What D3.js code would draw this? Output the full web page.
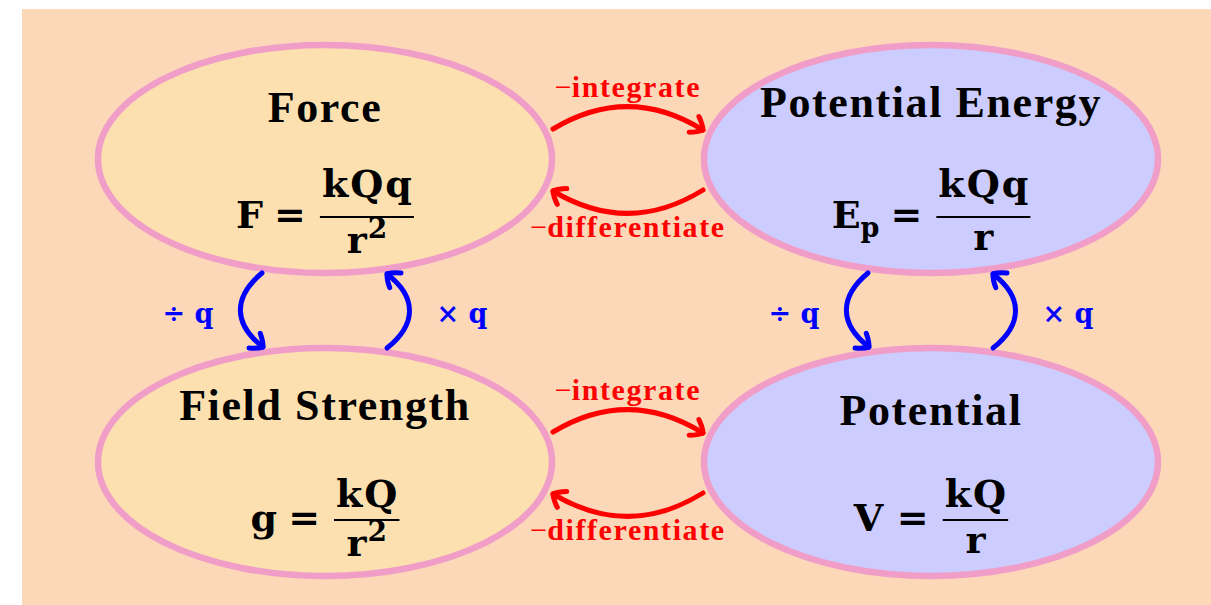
<!DOCTYPE html>
<html>
<head>
<meta charset="utf-8">
<script src="https://cdn.jsdelivr.net/npm/d3@7"></script>
<style>
  body { margin: 0; background: #fff; }
</style>
</head>
<body>
<div id="chart"></div>
<script>
var width = 1211,
    height = 605;

// the four quantities
var titles = ["Force", "Potential Energy", "Field Strength", "Potential"];
var cols = [0, 1, 0, 1];
var rows = [0, 0, 1, 1];
var lhs = ["F", "E", "g", "V"];
var lhsSub = ["", "p", "", ""];
var numer = ["kQq", "kQq", "kQ", "kQ"];
var denom = ["r", "r", "r", "r"];
var denomPow = ["2", "", "2", ""];

// the links between them
var hLabels = ["\u2212integrate", "\u2212differentiate"];
var vLabels = ["\u00f7 q", "\u00d7 q"];

var svg = d3.select("#chart").append("svg")
    .attr("width", width)
    .attr("height", height);

svg.append("rect")
    .attr("x", 22).attr("y", 9)
    .attr("width", width - 22).attr("height", height - 9)
    .attr("fill", "#fcd8b8");

var x = d3.scaleLinear().domain([0, 1]).range([325, 931]);
var y = d3.scaleLinear().domain([0, 1]).range([159, 462]);
var fill = d3.scaleOrdinal().domain([0, 1]).range(["#fde0b0", "#ccccff"]);
var rx = 227, ry = 114;

var titleFont = "'Liberation Serif', serif";
var mathFont = "'DejaVu Serif', serif";

// ellipses
svg.selectAll("ellipse.node")
    .data(d3.range(titles.length))
  .enter().append("ellipse")
    .attr("class", "node")
    .attr("cx", function(i) { return x(cols[i]); })
    .attr("cy", function(i) { return y(rows[i]); })
    .attr("rx", rx)
    .attr("ry", ry)
    .attr("fill", function(i) { return fill(cols[i]); })
    .attr("stroke", "#f09ec8")
    .attr("stroke-width", 6.5);

// titles
svg.selectAll("text.title")
    .data(d3.range(titles.length))
  .enter().append("text")
    .attr("class", "title")
    .attr("x", function(i) { return x(cols[i]); })
    .attr("y", function(i) { return y(rows[i]) - (/[gjpqy]/.test(titles[i]) ? 42 : 37); })
    .attr("text-anchor", "middle")
    .attr("font-family", titleFont)
    .attr("font-weight", "bold")
    .attr("font-size", 44)
    .attr("letter-spacing", 1.6)
    .attr("fill", "#000")
    .text(function(i) { return titles[i]; });

// formulas
d3.range(titles.length).forEach(function(i) {
  var g = svg.append("g")
      .attr("font-family", mathFont)
      .attr("font-weight", "bold")
      .attr("font-size", 38);
  var t1 = g.append("text")
      .attr("x", 0).attr("y", 69);
  t1.append("tspan").text(lhs[i]);
  if (lhsSub[i]) t1.append("tspan").attr("font-size", 27).attr("dy", 9).text(lhsSub[i]);
  var w1 = t1.node().getBBox().width;

  var eq = g.append("text")
      .attr("x", w1 + 11).attr("y", 69)
      .text("=");
  var w2 = eq.node().getBBox().width;
  var fx = w1 + 11 + w2 + 14;

  var hasDesc = /[gjpqy]/.test(numer[i]);
  var num = g.append("text")
      .attr("y", hasDesc ? 38 : 45)
      .attr("text-anchor", "middle")
      .attr("letter-spacing", 2)
      .text(numer[i]);
  var den = g.append("text")
      .attr("y", denomPow[i] ? 94 : 91)
      .attr("text-anchor", "middle");
  den.append("tspan").text(denom[i]);
  if (denomPow[i]) den.append("tspan").attr("font-size", 28).attr("dy", -15).attr("dx", 1).text(denomPow[i]);

  var fw = Math.max(num.node().getBBox().width, den.node().getBBox().width) + 2;
  num.attr("x", fx + fw / 2 + 1);
  den.attr("x", fx + fw / 2);
  g.append("line")
      .attr("x1", fx).attr("x2", fx + fw)
      .attr("y1", 58).attr("y2", 58)
      .attr("stroke", "#000").attr("stroke-width", 2);

  var total = fx + fw;
  g.attr("transform", "translate(" + (x(cols[i]) - total / 2) + "," + y(rows[i]) + ")");
});

// curved arrow with an open head at the end
function arrow(p0, c1, c2, p3, color) {
  var p = d3.path();
  p.moveTo(p0[0], p0[1]);
  p.bezierCurveTo(c1[0], c1[1], c2[0], c2[1], p3[0], p3[1]);
  svg.append("path")
      .attr("d", p.toString())
      .attr("fill", "none")
      .attr("stroke", color)
      .attr("stroke-width", 5)
      .attr("stroke-linecap", "round");

  var dx = p3[0] - c2[0], dy = p3[1] - c2[1];
  var len = Math.sqrt(dx * dx + dy * dy);
  dx /= len; dy /= len;
  var L = 14, a = 0.72;
  function barb(s) {
    var ca = Math.cos(s * a), sa = Math.sin(s * a);
    return [p3[0] - L * (dx * ca - dy * sa), p3[1] - L * (dx * sa + dy * ca)];
  }
  var b1 = barb(1), b2 = barb(-1);
  var h = d3.path();
  h.moveTo(b1[0], b1[1]);
  h.quadraticCurveTo((b1[0] + p3[0]) / 2 + dx * 2, (b1[1] + p3[1]) / 2 + dy * 2, p3[0], p3[1]);
  h.quadraticCurveTo((b2[0] + p3[0]) / 2 + dx * 2, (b2[1] + p3[1]) / 2 + dy * 2, b2[0], b2[1]);
  svg.append("path")
      .attr("d", h.toString())
      .attr("fill", "none")
      .attr("stroke", color)
      .attr("stroke-width", 5)
      .attr("stroke-linecap", "round")
      .attr("stroke-linejoin", "round");
}

// horizontal (red) links
var midX = (x(0) + x(1)) / 2;
[0, 1].forEach(function(r) {
  var a0 = x(0) + rx + 1, a1 = x(1) - rx - 1, cy = y(r);
  arrow([a0, cy - 30], [a0 + 50, cy - 60], [a1 - 50, cy - 60], [a1, cy - 29], "#ff0000");
  arrow([a1, cy + 31], [a1 - 50, cy + 62], [a0 + 50, cy + 62], [a0, cy + 32], "#ff0000");

  hLabels.forEach(function(lab, k) {
    var t = svg.append("text")
        .attr("x", midX)
        .attr("y", k === 0 ? cy - 62 : cy + 78)
        .attr("text-anchor", "middle")
        .attr("font-family", titleFont)
        .attr("font-size", 30)
        .attr("fill", "#ff0000");
    t.append("tspan").text(lab.charAt(0));
    t.append("tspan").attr("font-weight", "bold").attr("letter-spacing", 1.6).text(lab.slice(1));
  });
});

// vertical (blue) links
var midY = (y(0) + y(1)) / 2;
[0, 1].forEach(function(c) {
  var cx = x(c), t0 = y(0) + ry, t1 = y(1) - ry;
  arrow([cx - 63, t0], [cx - 92, t0 + 24], [cx - 92, t1 - 24], [cx - 62, t1 - 1], "#0000ff");
  arrow([cx + 62, t1], [cx + 92, t1 - 24], [cx + 92, t0 + 24], [cx + 62, t0 + 1], "#0000ff");

  vLabels.forEach(function(lab, k) {
    svg.append("text")
        .attr("x", k === 0 ? cx - 137 : cx + 137)
        .attr("y", midY + 12)
        .attr("text-anchor", "middle")
        .attr("font-family", mathFont)
        .attr("font-weight", "bold")
        .attr("font-size", 27)
        .attr("fill", "#0000ff")
        .text(lab);
  });
});
</script>
</body>
</html>
